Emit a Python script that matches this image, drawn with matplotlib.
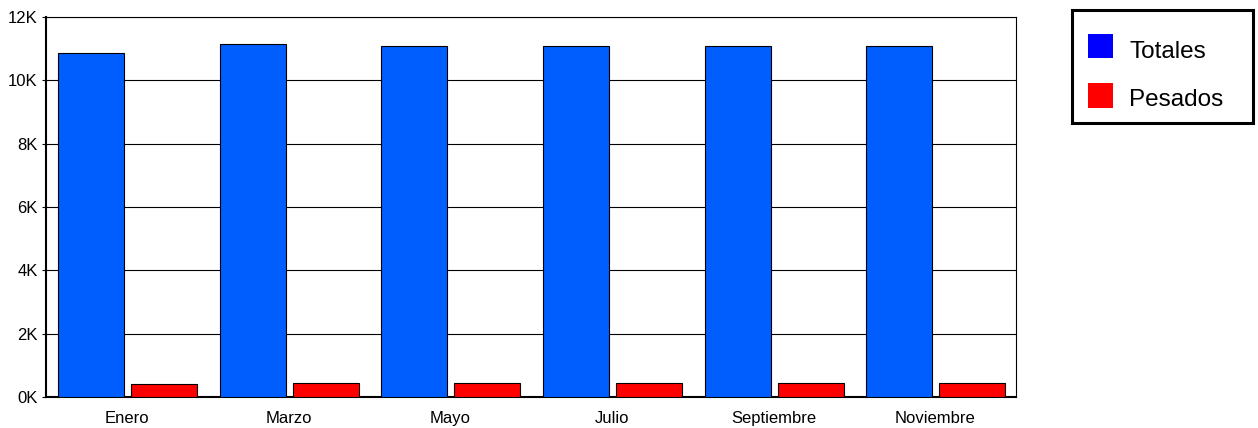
import matplotlib
matplotlib.use("Agg")
import matplotlib.pyplot as plt
from matplotlib.patches import Rectangle
import numpy as np

months = ["Enero", "Marzo", "Mayo", "Julio", "Septiembre", "Noviembre"]
totales = [10860, 11150, 11080, 11080, 11080, 11080]
pesados = [400, 430, 430, 430, 430, 430]
yticks = [0, 2000, 4000, 6000, 8000, 10000, 12000]
ytick_labels = ["0K", "2K", "4K", "6K", "8K", "10K", "12K"]
series_names = ["Totales", "Pesados"]

plt.rcParams['font.family'] = ['Liberation Sans', 'DejaVu Sans']

W, H = 1258, 428
fig = plt.figure(figsize=(W / 100, H / 100), dpi=100)
ax = fig.add_axes([46 / W, 1 - 397 / H, 970 / W, 380 / H])

x = np.arange(len(months))
w = 0.408
ax.bar(x + 0.278, totales, width=w, color="#005EFF", edgecolor="black", linewidth=0.8, zorder=3)
ax.bar(x + 0.73, pesados, width=w, color="#FF0000", edgecolor="black", linewidth=0.8, zorder=3)

ax.set_xlim(0, len(months))
ax.set_ylim(0, 12000)
ax.set_yticks(yticks)
ax.set_yticklabels(ytick_labels, fontsize=12)
ax.set_xticks(x + 0.5)
ax.set_xticklabels(months, fontsize=12)
ax.tick_params(axis='x', length=0, pad=10)
ax.tick_params(axis='y', length=3, pad=3)
ax.yaxis.grid(True, color="black", linewidth=0.8, zorder=0)
for s in ax.spines.values():
    s.set_linewidth(0.8)
ax.spines['left'].set_linewidth(1.5)
ax.spines['bottom'].set_linewidth(1.5)

# legend drawn manually in figure pixel coordinates
def fx(px):
    return px / W

def fy(py):
    return 1 - py / H

fig.patches.append(Rectangle((fx(1072), fy(123)), (1253 - 1072) / W, (123 - 10) / H,
                             transform=fig.transFigure, facecolor="white",
                             edgecolor="black", linewidth=2.2, zorder=5))
legend_colors = ["#0000FF", "#FF0000"]
rows = [(34, 58, 58), (83, 108, 106)]
for name, col, (t, b, base) in zip(series_names, legend_colors, rows):
    fig.patches.append(Rectangle((fx(1088), fy(b)), 25 / W, (b - t) / H,
                                 transform=fig.transFigure, facecolor=col,
                                 edgecolor="none", zorder=6))
    fig.text(fx(1129), fy(base), name, fontsize=17.5, va="baseline", ha="left", zorder=7)

fig.savefig("out.png", dpi=100)
